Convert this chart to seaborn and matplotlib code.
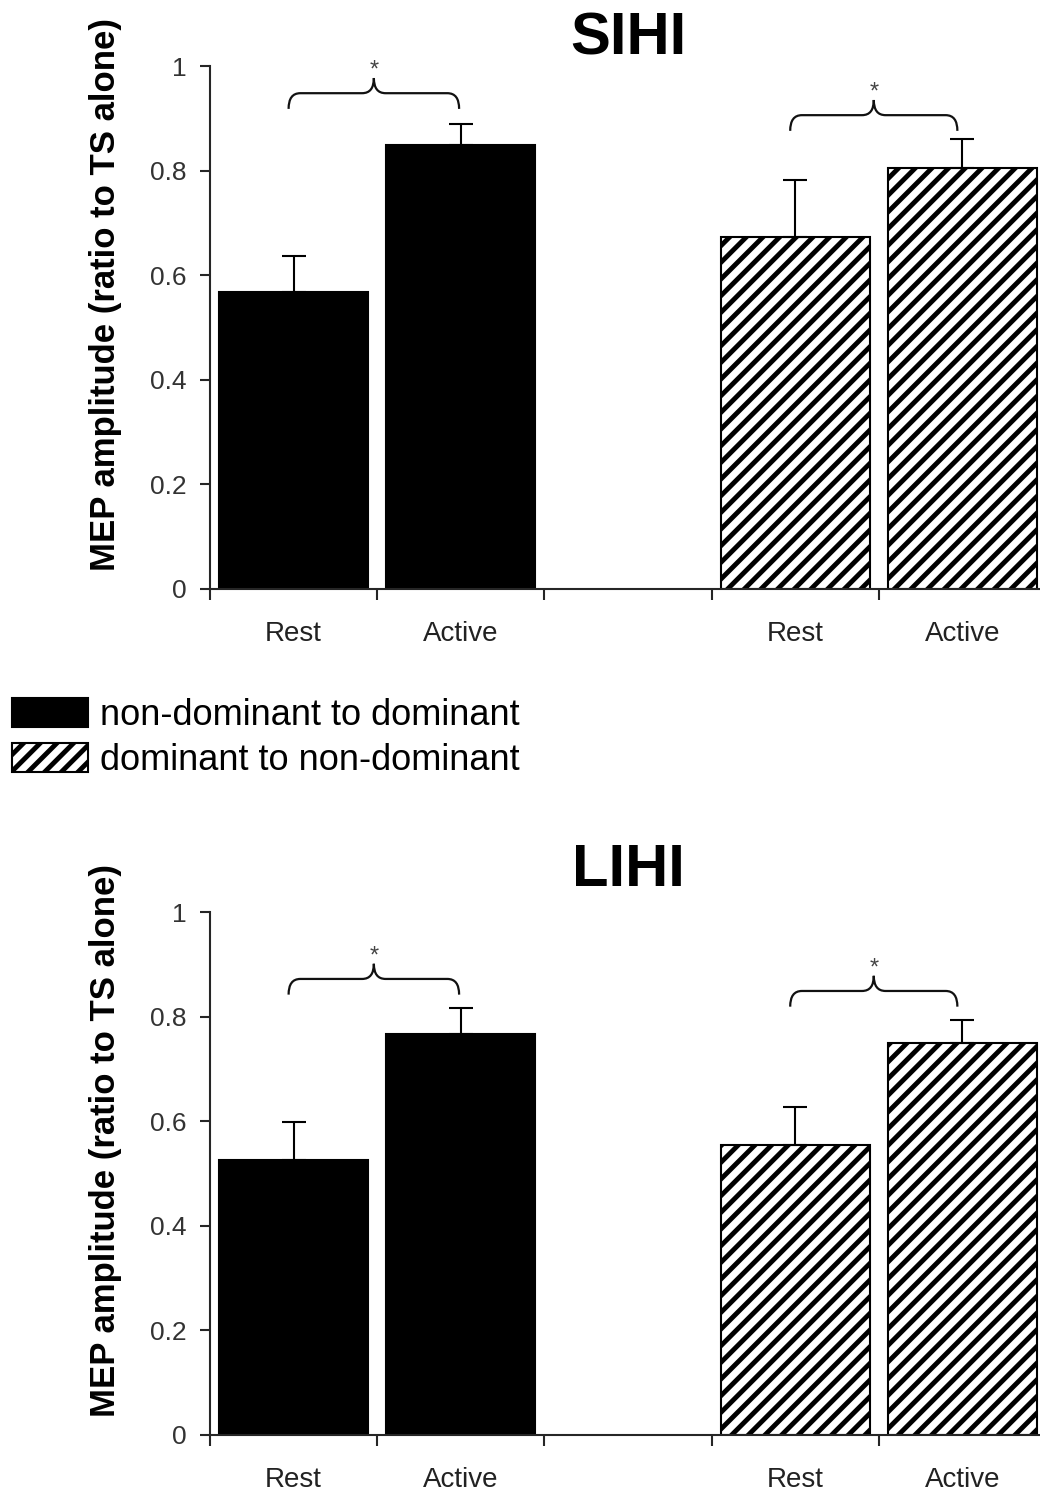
import numpy as np
import pandas as pd
import matplotlib
matplotlib.use('Agg')
import matplotlib.pyplot as plt
from matplotlib.patches import Patch, PathPatch
from matplotlib.path import Path
import seaborn as sns

# bar order inside each panel: nd->d rest, nd->d active, d->nd rest, d->nd active
conditions = ['Rest', 'Active']
groups = ['non-dominant to dominant', 'dominant to non-dominant']
slots = ['nd_rest', 'nd_active', 'gap', 'd_rest', 'd_active']
bar_slots = ['nd_rest', 'nd_active', 'd_rest', 'd_active']
bar_groups = [groups[0], groups[0], groups[1], groups[1]]

sihi_mean = [0.568, 0.849, 0.673, 0.805]
sihi_err = [0.069, 0.040, 0.109, 0.055]
lihi_mean = [0.526, 0.767, 0.554, 0.750]
lihi_err = [0.072, 0.050, 0.073, 0.043]

# height of the significance braces (one per group)
sihi_brace = [0.948, 0.906]
lihi_brace = [0.872, 0.849]

sns.set_style('ticks')
plt.rcParams['font.family'] = ['Liberation Sans', 'DejaVu Sans']
plt.rcParams['hatch.linewidth'] = 3.5
plt.rcParams['hatch.color'] = 'black'
plt.rcParams['text.color'] = 'black'
plt.rcParams['axes.labelcolor'] = 'black'

W, H = 1040, 1491
fig = plt.figure(figsize=(W / 100, H / 100), dpi=100)
ax_top = fig.add_axes([210 / W, 902 / H, 836 / W, 523 / H])
ax_bot = fig.add_axes([210 / W, 56 / H, 836 / W, 523 / H])


def draw_brace(ax, x0, x1, yh):
    ye, yt = yh - 0.03, yh + 0.029
    xm = (x0 + x1) / 2
    dx = 0.07
    verts = [(x0, ye), (x0, yh), (x0 + dx, yh), (xm - dx, yh), (xm, yh), (xm, yt),
             (xm, yh), (xm + dx, yh), (x1 - dx, yh), (x1, yh), (x1, ye)]
    codes = [Path.MOVETO, Path.CURVE3, Path.CURVE3, Path.LINETO, Path.CURVE3, Path.CURVE3,
             Path.CURVE3, Path.CURVE3, Path.LINETO, Path.CURVE3, Path.CURVE3]
    ax.add_patch(PathPatch(Path(verts, codes), facecolor='none', edgecolor='#111',
                           lw=1.6, clip_on=False))
    ax.text(xm, yh + 0.031, '*', ha='center', va='baseline', fontsize=17,
            color='#444', clip_on=False)


def draw_panel(ax, title, means, errs, braces, pad):
    df = pd.DataFrame({'slot': bar_slots, 'value': means, 'group': bar_groups})
    sns.barplot(data=df, x='slot', y='value', hue='group', order=slots,
                hue_order=groups, palette=['black', 'white'], dodge=False,
                width=0.89, saturation=1, edgecolor='black', linewidth=1.5,
                errorbar=None, legend=False, ax=ax)
    for bar in ax.containers[1]:
        bar.set_hatch('//')

    xpos = [slots.index(s) for s in bar_slots]
    ax.errorbar(xpos, means, yerr=[np.zeros(len(errs)), errs], fmt='none',
                ecolor='black', elinewidth=1.5, capsize=8.5, capthick=1.5, zorder=5)

    draw_brace(ax, -0.03, 0.99, braces[0])
    draw_brace(ax, 2.97, 3.97, braces[1])

    ax.set_xlim(-0.5, 4.5)
    ax.set_ylim(0, 1)
    ax.set_xticks(np.arange(-0.5, 5, 1))
    ax.set_xticklabels([])
    ax.set_xticks(xpos, minor=True)
    ax.set_xticklabels(conditions * 2, minor=True, fontsize=20, color='#222')
    ax.tick_params(axis='x', which='major', length=8, width=1.5, direction='out')
    ax.tick_params(axis='x', which='minor', length=0, pad=23)
    ax.set_yticks([0, 0.2, 0.4, 0.6, 0.8, 1.0])
    ax.set_yticklabels(['0', '0.2', '0.4', '0.6', '0.8', '1'])
    ax.tick_params(axis='y', length=7, width=1.5, pad=10, labelsize=19, labelcolor='#333')
    ax.set_xlabel('')
    ax.set_ylabel('MEP amplitude (ratio to TS alone)', fontsize=25, fontweight='bold')
    ax.yaxis.set_label_coords(-0.105, 0.564)
    ax.set_title(title, fontsize=43, fontweight='bold', pad=pad)
    sns.despine(ax=ax)
    for sp in ['left', 'bottom']:
        ax.spines[sp].set_linewidth(1.5)


draw_panel(ax_top, 'SIHI', sihi_mean, sihi_err, sihi_brace, 8)
draw_panel(ax_bot, 'LIHI', lihi_mean, lihi_err, lihi_brace, 19)

handles = [Patch(facecolor='black', edgecolor='black', lw=1.5),
           Patch(facecolor='white', edgecolor='black', lw=1.5, hatch='//')]
fig.legend(handles, groups, loc='upper left', bbox_to_anchor=(12 / W, 1 - 698 / H),
           frameon=False, fontsize=26, handlelength=2.1, handleheight=0.83,
           handletextpad=0.33, labelspacing=0.28, borderpad=0, borderaxespad=0)

fig.savefig('out.png', dpi=100)
